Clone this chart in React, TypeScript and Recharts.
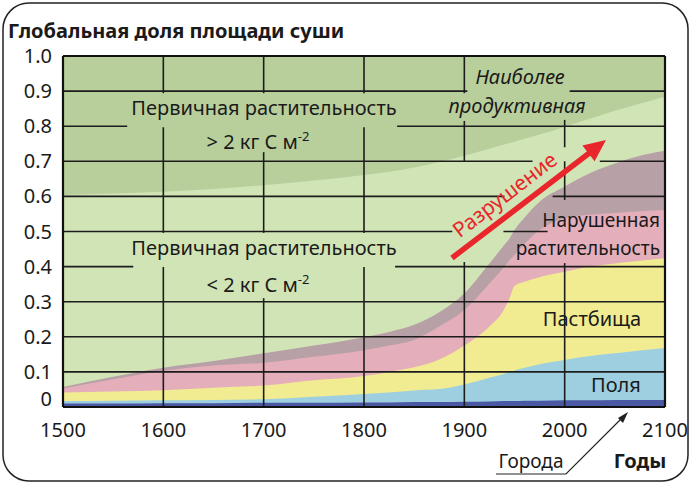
import React from 'react';
import { AreaChart, Area, XAxis, YAxis, CartesianGrid, ReferenceLine } from 'recharts';

// years sampled along the curves
const years = [1500, 1550, 1600, 1650, 1700, 1750, 1800, 1825, 1850, 1875, 1900, 1925, 1940, 1945, 1950, 1960, 1975, 2000, 2025, 2050, 2075, 2100];

// upper edge of each band, share of global land area
const primaryLow = [0.604, 0.608, 0.613, 0.621, 0.632, 0.645, 0.661, 0.67, 0.682, 0.698, 0.716, 0.736, 0.748, 0.752, 0.756, 0.764, 0.776, 0.798, 0.821, 0.844, 0.864, 0.884];
const degraded = [0.057, 0.086, 0.112, 0.131, 0.153, 0.175, 0.199, 0.214, 0.234, 0.27, 0.324, 0.409, 0.462, 0.48, 0.504, 0.54, 0.585, 0.628, 0.666, 0.694, 0.716, 0.73];
const disturbed = [0.053, 0.079, 0.103, 0.118, 0.126, 0.143, 0.162, 0.175, 0.191, 0.229, 0.276, 0.352, 0.4, 0.418, 0.433, 0.465, 0.504, 0.538, 0.548, 0.553, 0.558, 0.561];
const pastures = [0.041, 0.044, 0.048, 0.055, 0.061, 0.076, 0.088, 0.1, 0.113, 0.135, 0.175, 0.229, 0.28, 0.31, 0.345, 0.357, 0.37, 0.385, 0.4, 0.409, 0.417, 0.424];
const fields = [0.017, 0.018, 0.019, 0.02, 0.022, 0.029, 0.037, 0.041, 0.047, 0.051, 0.064, 0.083, 0.095, 0.099, 0.104, 0.112, 0.122, 0.134, 0.145, 0.153, 0.161, 0.168];
const cities = [0.01, 0.01, 0.011, 0.011, 0.012, 0.012, 0.013, 0.013, 0.014, 0.014, 0.015, 0.016, 0.017, 0.017, 0.017, 0.018, 0.018, 0.019, 0.019, 0.02, 0.02, 0.02];

const xTicks = [1500, 1600, 1700, 1800, 1900, 2000, 2100];
const yTicks = [0, 0.1, 0.2, 0.3, 0.4, 0.5, 0.6, 0.7, 0.8, 0.9, 1.0];

// grid pieces left visible around the labels: [value, [from, to]...]
const hGrid: [number, number[][]][] = [
  [0.1, [[1500, 2100]]],
  [0.2, [[1500, 2100]]],
  [0.3, [[1500, 2100]]],
  [0.4, [[1500, 1570], [1831, 2100]]],
  [0.5, [[1500, 1888], [1939, 1983]]],
  [0.6, [[1500, 1940], [1988, 2100]]],
  [0.7, [[1500, 1968], [2035, 2100]]],
  [0.8, [[1500, 1564], [1833, 2100]]],
  [0.9, [[1500, 1903], [2005, 2100]]],
];
const vGrid: [number, number[][]][] = [
  [1600, [[0, 0.399], [0.496, 0.797], [0.894, 1]]],
  [1700, [[0, 0.31], [0.496, 0.726], [0.894, 1]]],
  [1800, [[0, 0.399], [0.496, 0.797], [0.894, 1]]],
  [1900, [[0, 0.413], [0.698, 0.815], [0.894, 1]]],
  [2000, [[0, 0.41], [0.59, 0.7], [0.74, 0.818]]],
];

const COLORS = {
  top: '#b8cf9c',
  primaryLow: '#d1e4b6',
  degraded: '#b8a0a7',
  disturbed: '#e4aebb',
  pastures: '#f1ec91',
  fields: '#9ecfe1',
  cities: '#4b58a3',
};

const FONT = '"Noto Sans", sans-serif';
const INK = '#1a1a1a';

const data = years.map((year, i) => ({
  year,
  primaryLow: primaryLow[i],
  degraded: degraded[i],
  disturbed: disturbed[i],
  pastures: pastures[i],
  fields: fields[i],
  cities: cities[i],
}));

const YTick = (props: any) => {
  const { x, y, payload } = props;
  const v = payload.value;
  return (
    <text x={x} y={y} dy={v === 0 ? -1 : 7} textAnchor="end" fontSize={20} fill={INK} fontFamily={FONT}>
      {v === 0 ? '0' : v.toFixed(1)}
    </text>
  );
};

const XTick = (props: any) => {
  const { x, y, payload } = props;
  return (
    <text x={x} y={y} dy={30} textAnchor="middle" fontSize={20} fill={INK} fontFamily={FONT}>
      {payload.value}
    </text>
  );
};

export default function App() {
  const gridProps = { stroke: '#1c1c1c', strokeWidth: 1.6, ifOverflow: 'visible' as const };
  return (
    <div style={{ position: 'absolute', left: 0, top: 0, width: 691, height: 484, background: '#fff' }}>
      <AreaChart width={691} height={484} data={data} margin={{ top: 56, right: 26, left: 8, bottom: 47 }}>
        <CartesianGrid horizontal={false} vertical={false} fill={COLORS.top} fillOpacity={1} />
        <XAxis dataKey="year" type="number" domain={[1500, 2100]} ticks={xTicks} tick={<XTick />}
          axisLine={false} tickLine={false} tickSize={0} tickMargin={0} height={30} />
        <YAxis type="number" domain={[0, 1]} ticks={yTicks} tick={<YTick />}
          axisLine={false} tickLine={false} tickSize={0} tickMargin={11} width={55} />
        {(['primaryLow', 'degraded', 'disturbed', 'pastures', 'fields', 'cities'] as const).map((key) => (
          <Area key={key} type="monotone" dataKey={key} stroke="none" fill={COLORS[key]} fillOpacity={1}
            isAnimationActive={false} dot={false} activeDot={false} />
        ))}
        {hGrid.map(([v, segs]) => segs.map(([a, b]) => (
          <ReferenceLine key={`h${v}-${a}`} segment={[{ x: a, y: v }, { x: b, y: v }]} {...gridProps} />
        )))}
        {vGrid.map(([yr, segs]) => segs.map(([a, b]) => (
          <ReferenceLine key={`v${yr}-${a}`} segment={[{ x: yr, y: a }, { x: yr, y: b }]} {...gridProps} />
        )))}
        <ReferenceLine segment={[{ x: 1500, y: 1 }, { x: 2100, y: 1 }]} stroke="#111" strokeWidth={2.2} ifOverflow="visible" />
        <ReferenceLine segment={[{ x: 1500, y: 0 }, { x: 2100, y: 0 }]} stroke="#111" strokeWidth={2.2} ifOverflow="visible" />
        <ReferenceLine segment={[{ x: 1500, y: 0 }, { x: 1500, y: 1 }]} stroke="#111" strokeWidth={2.2} ifOverflow="visible" />
        <ReferenceLine segment={[{ x: 2100, y: 0 }, { x: 2100, y: 1 }]} stroke="#111" strokeWidth={2.2} ifOverflow="visible" />
      </AreaChart>

      <svg width={691} height={484} style={{ position: 'absolute', left: 0, top: 0, pointerEvents: 'none' }}
        fontFamily={FONT} fill={INK}>
        <rect x={3} y={3} width={685} height={478} rx={26} fill="none" stroke="#222" strokeWidth={1.5} />
        <text x={8} y={38} fontSize={20} fontWeight="bold">Глобальная доля площади суши</text>

        <text x={264} y={115} fontSize={20} textAnchor="middle">Первичная растительность</text>
        <text x={258} y={149} fontSize={20} textAnchor="middle">
          {'> 2 кг С м'}<tspan fontSize={13} dy={-8}>-2</tspan>
        </text>
        <text x={264} y={255} fontSize={20} textAnchor="middle">Первичная растительность</text>
        <text x={258} y={292} fontSize={20} textAnchor="middle">
          {'< 2 кг С м'}<tspan fontSize={13} dy={-8}>-2</tspan>
        </text>

        <text x={520} y={84} fontSize={20} fontStyle="italic" textAnchor="middle">Наиболее</text>
        <text x={517} y={113} fontSize={20} fontStyle="italic" textAnchor="middle">продуктивная</text>

        <text x={660} y={227} fontSize={19} textAnchor="end">Нарушенная</text>
        <text x={660} y={255} fontSize={19} textAnchor="end">растительность</text>
        <text x={592} y={326} fontSize={20} textAnchor="middle">Пастбища</text>
        <text x={616} y={392} fontSize={20} textAnchor="middle">Поля</text>

        <line x1={452} y1={258} x2={592} y2={151} stroke="#e8262b" strokeWidth={5.5} />
        <polygon points="606,140 594.6,161.3 582.4,145.5" fill="#e8262b" />
        <text x={505} y={202} fontSize={21} fill="#e8262b" textAnchor="middle"
          transform="rotate(-37.5 505 195)">Разрушение</text>

        <text x={531} y={468} fontSize={19} textAnchor="middle">Города</text>
        <polyline points="496,474 566,474 622,418" fill="none" stroke="#222" strokeWidth={1.2} />
        <polygon points="628,412 618,418 623,423" fill="#222" />
        <text x={640} y={468} fontSize={20} fontWeight="bold" textAnchor="middle">Годы</text>
      </svg>
    </div>
  );
}
